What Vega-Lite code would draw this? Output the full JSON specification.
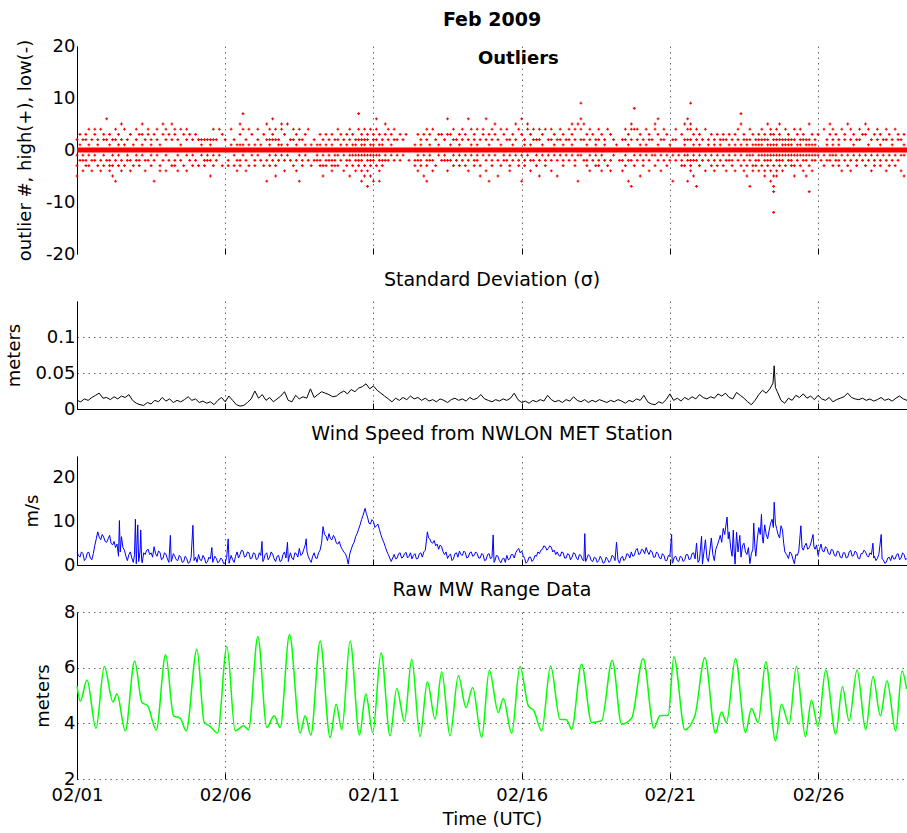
{
  "$schema": "https://vega.github.io/schema/vega-lite/v6.json",
  "background": "white",
  "padding": {"left": 5, "top": 11, "right": 0, "bottom": 2},
  "bounds": "flush",
  "spacing": 47,
  "config": {
    "font": "DejaVu Sans",
    "view": {"stroke": null},
    "axis": {
      "labelFont": "DejaVu Sans", "labelFontSize": 18, "labelColor": "black",
      "titleFont": "DejaVu Sans", "titleFontSize": 18, "titleFontWeight": "normal", "titleColor": "black",
      "domainColor": "black", "tickColor": "black",
      "gridColor": "#333", "gridDash": [1.5, 4], "gridWidth": 1, "gridOpacity": 0.75,
      "labelFlush": false, "labelOverlap": false
    },
    "axisY": {"titlePadding": 11},
    "title": {"font": "DejaVu Sans", "fontSize": 19, "fontWeight": "normal", "color": "black", "anchor": "middle", "frame": "group"}
  },
  "datasets": {
    "zero": [{"d": 1, "v": 0}, {"d": 29, "v": 0}],
    "outliers": [
      {"d":1,"v":2},{"d":1,"v":-1},{"d":1,"v":-3},{"d":1,"v":-5},
      {"d":1.1,"v":3},{"d":1.1,"v":1},{"d":1.1,"v":-2},
      {"d":1.2,"v":2},{"d":1.2,"v":-1},{"d":1.2,"v":-2},{"d":1.2,"v":-4},
      {"d":1.3,"v":3},{"d":1.3,"v":2},{"d":1.3,"v":-2},{"d":1.3,"v":-3},
      {"d":1.4,"v":4},{"d":1.4,"v":1},{"d":1.4,"v":-1},{"d":1.4,"v":-3},
      {"d":1.5,"v":2},{"d":1.5,"v":-2},{"d":1.5,"v":-4},
      {"d":1.6,"v":4},{"d":1.6,"v":3},{"d":1.6,"v":-1},{"d":1.6,"v":-2},
      {"d":1.7,"v":2},{"d":1.7,"v":1},{"d":1.7,"v":-3},
      {"d":1.8,"v":4},{"d":1.8,"v":-2},{"d":1.8,"v":-4},
      {"d":1.9,"v":3},{"d":1.9,"v":2},{"d":1.9,"v":-1},{"d":1.9,"v":-3},
      {"d":2,"v":6},{"d":2,"v":2},{"d":2,"v":-2},
      {"d":2.1,"v":3},{"d":2.1,"v":1},{"d":2.1,"v":-2},{"d":2.1,"v":-3},{"d":2.1,"v":-4},
      {"d":2.2,"v":2},{"d":2.2,"v":-1},{"d":2.2,"v":-3},{"d":2.2,"v":-5},
      {"d":2.3,"v":4},{"d":2.3,"v":2},{"d":2.3,"v":-2},{"d":2.3,"v":-6},
      {"d":2.4,"v":3},{"d":2.4,"v":1},{"d":2.4,"v":-1},{"d":2.4,"v":-3},
      {"d":2.5,"v":5},{"d":2.5,"v":2},{"d":2.5,"v":-2},{"d":2.5,"v":-4},
      {"d":2.6,"v":4},{"d":2.6,"v":1},{"d":2.6,"v":-3},
      {"d":2.7,"v":2},{"d":2.7,"v":-1},{"d":2.7,"v":-2},
      {"d":2.8,"v":3},{"d":2.8,"v":-2},{"d":2.8,"v":-4},
      {"d":2.9,"v":1},{"d":2.9,"v":-3},
      {"d":3,"v":4},{"d":3,"v":2},{"d":3,"v":-1},{"d":3,"v":-2},
      {"d":3.1,"v":3},{"d":3.1,"v":-2},{"d":3.1,"v":-3},
      {"d":3.2,"v":5},{"d":3.2,"v":3},{"d":3.2,"v":1},{"d":3.2,"v":-1},
      {"d":3.3,"v":2},{"d":3.3,"v":-2},{"d":3.3,"v":-4},
      {"d":3.4,"v":4},{"d":3.4,"v":3},{"d":3.4,"v":-2},
      {"d":3.5,"v":2},{"d":3.5,"v":1},{"d":3.5,"v":-1},{"d":3.5,"v":-3},
      {"d":3.6,"v":3},{"d":3.6,"v":-2},{"d":3.6,"v":-6},
      {"d":3.7,"v":4},{"d":3.7,"v":2},{"d":3.7,"v":-1},
      {"d":3.8,"v":1},{"d":3.8,"v":-3},{"d":3.8,"v":-4},
      {"d":3.9,"v":5},{"d":3.9,"v":3},{"d":3.9,"v":-2},
      {"d":4,"v":4},{"d":4,"v":2},{"d":4,"v":-1},{"d":4,"v":-4},
      {"d":4.1,"v":3},{"d":4.1,"v":-2},
      {"d":4.2,"v":5},{"d":4.2,"v":2},{"d":4.2,"v":-3},
      {"d":4.3,"v":4},{"d":4.3,"v":3},{"d":4.3,"v":-2},{"d":4.3,"v":-3},
      {"d":4.4,"v":2},{"d":4.4,"v":-1},{"d":4.4,"v":-4},
      {"d":4.5,"v":4},{"d":4.5,"v":1},{"d":4.5,"v":-2},
      {"d":4.6,"v":3},{"d":4.6,"v":-3},
      {"d":4.7,"v":4},{"d":4.7,"v":2},{"d":4.7,"v":-1},{"d":4.7,"v":-4},
      {"d":4.8,"v":3},{"d":4.8,"v":-2},
      {"d":4.9,"v":2},{"d":4.9,"v":-1},{"d":4.9,"v":-3},
      {"d":5,"v":3},{"d":5,"v":-2},
      {"d":5.1,"v":2},{"d":5.1,"v":-3},
      {"d":5.2,"v":2},{"d":5.2,"v":1},{"d":5.2,"v":-1},
      {"d":5.3,"v":2},{"d":5.3,"v":-2},{"d":5.3,"v":-3},
      {"d":5.4,"v":2},{"d":5.4,"v":-1},{"d":5.4,"v":-2},
      {"d":5.5,"v":2},{"d":5.5,"v":1},{"d":5.5,"v":-2},{"d":5.5,"v":-5},
      {"d":5.6,"v":4},{"d":5.6,"v":2},{"d":5.6,"v":-1},{"d":5.6,"v":-3},
      {"d":5.7,"v":2},{"d":5.7,"v":-2},
      {"d":5.8,"v":4},{"d":5.8,"v":-1},
      {"d":5.9,"v":3},{"d":5.9,"v":-3},
      {"d":6,"v":2},
      {"d":6.1,"v":-2},{"d":6.1,"v":-3},
      {"d":6.2,"v":4},{"d":6.2,"v":1},
      {"d":6.3,"v":2},{"d":6.3,"v":-1},{"d":6.3,"v":-3},
      {"d":6.4,"v":1},{"d":6.4,"v":-2},{"d":6.4,"v":-4},
      {"d":6.5,"v":5},{"d":6.5,"v":3},{"d":6.5,"v":1},{"d":6.5,"v":-2},{"d":6.5,"v":-3},
      {"d":6.6,"v":7},{"d":6.6,"v":4},{"d":6.6,"v":1},{"d":6.6,"v":-1},
      {"d":6.7,"v":2},{"d":6.7,"v":-2},{"d":6.7,"v":-4},
      {"d":6.8,"v":4},{"d":6.8,"v":1},{"d":6.8,"v":-3},
      {"d":6.9,"v":3},{"d":6.9,"v":-1},
      {"d":7,"v":1},{"d":7,"v":-2},{"d":7,"v":-3},
      {"d":7.1,"v":4},{"d":7.1,"v":2},{"d":7.1,"v":-1},
      {"d":7.2,"v":1},{"d":7.2,"v":-2},
      {"d":7.3,"v":3},{"d":7.3,"v":-3},
      {"d":7.4,"v":5},{"d":7.4,"v":2},{"d":7.4,"v":-2},{"d":7.4,"v":-6},
      {"d":7.5,"v":4},{"d":7.5,"v":2},{"d":7.5,"v":1},{"d":7.5,"v":-1},{"d":7.5,"v":-3},
      {"d":7.6,"v":6},{"d":7.6,"v":3},{"d":7.6,"v":2},{"d":7.6,"v":-2},
      {"d":7.7,"v":4},{"d":7.7,"v":2},{"d":7.7,"v":-1},{"d":7.7,"v":-3},{"d":7.7,"v":-5},
      {"d":7.8,"v":2},{"d":7.8,"v":1},{"d":7.8,"v":-2},
      {"d":7.9,"v":5},{"d":7.9,"v":4},{"d":7.9,"v":1},{"d":7.9,"v":-1},
      {"d":8,"v":3},{"d":8,"v":-2},{"d":8,"v":-4},
      {"d":8.1,"v":5},{"d":8.1,"v":1},{"d":8.1,"v":-1},
      {"d":8.2,"v":2},{"d":8.2,"v":-2},
      {"d":8.3,"v":4},{"d":8.3,"v":2},{"d":8.3,"v":-3},
      {"d":8.4,"v":3},{"d":8.4,"v":1},{"d":8.4,"v":-2},{"d":8.4,"v":-4},
      {"d":8.5,"v":4},{"d":8.5,"v":2},{"d":8.5,"v":-1},{"d":8.5,"v":-6},
      {"d":8.6,"v":2},{"d":8.6,"v":-2},{"d":8.6,"v":-3},
      {"d":8.7,"v":3},{"d":8.7,"v":1},{"d":8.7,"v":-1},
      {"d":8.8,"v":4},{"d":8.8,"v":-2},
      {"d":8.9,"v":1},{"d":8.9,"v":-3},
      {"d":9,"v":2},{"d":9,"v":-2},
      {"d":9.1,"v":1},{"d":9.1,"v":-1},{"d":9.1,"v":-2},
      {"d":9.2,"v":3},{"d":9.2,"v":1},{"d":9.2,"v":-2},{"d":9.2,"v":-3},
      {"d":9.3,"v":2},{"d":9.3,"v":-1},{"d":9.3,"v":-3},{"d":9.3,"v":-5},
      {"d":9.4,"v":3},{"d":9.4,"v":1},{"d":9.4,"v":-2},{"d":9.4,"v":-3},
      {"d":9.5,"v":2},{"d":9.5,"v":-1},{"d":9.5,"v":-2},
      {"d":9.6,"v":3},{"d":9.6,"v":1},{"d":9.6,"v":-2},{"d":9.6,"v":-3},{"d":9.6,"v":-4},
      {"d":9.7,"v":2},{"d":9.7,"v":-1},{"d":9.7,"v":-2},{"d":9.7,"v":-3},
      {"d":9.8,"v":4},{"d":9.8,"v":2},{"d":9.8,"v":-1},{"d":9.8,"v":-3},
      {"d":9.9,"v":3},{"d":9.9,"v":1},{"d":9.9,"v":-2},
      {"d":10,"v":2},{"d":10,"v":-1},{"d":10,"v":-4},
      {"d":10.1,"v":3},{"d":10.1,"v":1},{"d":10.1,"v":-2},{"d":10.1,"v":-3},
      {"d":10.2,"v":4},{"d":10.2,"v":2},{"d":10.2,"v":-1},{"d":10.2,"v":-2},{"d":10.2,"v":-5},
      {"d":10.3,"v":3},{"d":10.3,"v":1},{"d":10.3,"v":-1},{"d":10.3,"v":-3},
      {"d":10.4,"v":2},{"d":10.4,"v":1},{"d":10.4,"v":-1},{"d":10.4,"v":-2},{"d":10.4,"v":-4},
      {"d":10.5,"v":7},{"d":10.5,"v":4},{"d":10.5,"v":2},{"d":10.5,"v":-1},{"d":10.5,"v":-2},{"d":10.5,"v":-3},
      {"d":10.6,"v":3},{"d":10.6,"v":2},{"d":10.6,"v":1},{"d":10.6,"v":-1},{"d":10.6,"v":-2},{"d":10.6,"v":-4},{"d":10.6,"v":-6},
      {"d":10.7,"v":4},{"d":10.7,"v":2},{"d":10.7,"v":1},{"d":10.7,"v":-1},{"d":10.7,"v":-3},{"d":10.7,"v":-5},
      {"d":10.8,"v":3},{"d":10.8,"v":2},{"d":10.8,"v":-1},{"d":10.8,"v":-2},{"d":10.8,"v":-4},{"d":10.8,"v":-7},
      {"d":10.9,"v":4},{"d":10.9,"v":1},{"d":10.9,"v":-1},{"d":10.9,"v":-2},{"d":10.9,"v":-3},{"d":10.9,"v":-5},
      {"d":11,"v":3},{"d":11,"v":2},{"d":11,"v":1},{"d":11,"v":-1},{"d":11,"v":-2},{"d":11,"v":-6},
      {"d":11.1,"v":6},{"d":11.1,"v":4},{"d":11.1,"v":2},{"d":11.1,"v":-1},{"d":11.1,"v":-3},
      {"d":11.2,"v":3},{"d":11.2,"v":1},{"d":11.2,"v":-1},{"d":11.2,"v":-2},{"d":11.2,"v":-4},{"d":11.2,"v":-6},
      {"d":11.3,"v":2},{"d":11.3,"v":1},{"d":11.3,"v":-2},{"d":11.3,"v":-3},
      {"d":11.4,"v":5},{"d":11.4,"v":3},{"d":11.4,"v":-1},{"d":11.4,"v":-2},
      {"d":11.5,"v":4},{"d":11.5,"v":2},{"d":11.5,"v":-2},
      {"d":11.6,"v":3},{"d":11.6,"v":1},{"d":11.6,"v":-1},
      {"d":11.7,"v":4},{"d":11.7,"v":2},{"d":11.7,"v":-2},
      {"d":11.8,"v":2},{"d":11.8,"v":-1},
      {"d":11.9,"v":3},{"d":11.9,"v":-2},
      {"d":12,"v":2},{"d":12,"v":-1},
      {"d":12.1,"v":3},
      {"d":12.2,"v":-2},
      {"d":12.4,"v":1},{"d":12.4,"v":-2},{"d":12.4,"v":-3},
      {"d":12.5,"v":3},{"d":12.5,"v":-1},{"d":12.5,"v":-2},{"d":12.5,"v":-4},
      {"d":12.6,"v":2},{"d":12.6,"v":1},{"d":12.6,"v":-2},{"d":12.6,"v":-3},
      {"d":12.7,"v":3},{"d":12.7,"v":-1},{"d":12.7,"v":-5},
      {"d":12.8,"v":4},{"d":12.8,"v":2},{"d":12.8,"v":-2},{"d":12.8,"v":-3},{"d":12.8,"v":-6},
      {"d":12.9,"v":3},{"d":12.9,"v":1},{"d":12.9,"v":-1},{"d":12.9,"v":-2},
      {"d":13,"v":4},{"d":13,"v":-2},{"d":13,"v":-4},
      {"d":13.1,"v":2},{"d":13.1,"v":-3},
      {"d":13.2,"v":3},{"d":13.2,"v":1},{"d":13.2,"v":-1},
      {"d":13.3,"v":3},{"d":13.3,"v":-2},
      {"d":13.4,"v":2},{"d":13.4,"v":-1},{"d":13.4,"v":-2},
      {"d":13.5,"v":6},{"d":13.5,"v":3},{"d":13.5,"v":-2},{"d":13.5,"v":-4},
      {"d":13.6,"v":3},{"d":13.6,"v":1},{"d":13.6,"v":-2},
      {"d":13.7,"v":4},{"d":13.7,"v":2},{"d":13.7,"v":-1},{"d":13.7,"v":-3},
      {"d":13.8,"v":2},{"d":13.8,"v":-2},
      {"d":13.9,"v":3},{"d":13.9,"v":1},{"d":13.9,"v":-1},{"d":13.9,"v":-3},
      {"d":14,"v":4},{"d":14,"v":2},{"d":14,"v":-2},
      {"d":14.1,"v":3},{"d":14.1,"v":-1},{"d":14.1,"v":-3},
      {"d":14.2,"v":6},{"d":14.2,"v":2},{"d":14.2,"v":-2},{"d":14.2,"v":-4},
      {"d":14.3,"v":4},{"d":14.3,"v":1},{"d":14.3,"v":-1},
      {"d":14.4,"v":3},{"d":14.4,"v":2},{"d":14.4,"v":-2},{"d":14.4,"v":-3},
      {"d":14.5,"v":4},{"d":14.5,"v":1},{"d":14.5,"v":-1},{"d":14.5,"v":-2},
      {"d":14.6,"v":2},{"d":14.6,"v":-3},{"d":14.6,"v":-5},
      {"d":14.7,"v":4},{"d":14.7,"v":3},{"d":14.7,"v":-1},
      {"d":14.8,"v":6},{"d":14.8,"v":2},{"d":14.8,"v":-2},{"d":14.8,"v":-4},
      {"d":14.9,"v":3},{"d":14.9,"v":1},{"d":14.9,"v":-1},{"d":14.9,"v":-6},
      {"d":15,"v":4},{"d":15,"v":2},{"d":15,"v":-2},{"d":15,"v":-3},
      {"d":15.1,"v":5},{"d":15.1,"v":3},{"d":15.1,"v":-1},
      {"d":15.2,"v":2},{"d":15.2,"v":-2},{"d":15.2,"v":-5},
      {"d":15.3,"v":4},{"d":15.3,"v":1},{"d":15.3,"v":-3},
      {"d":15.4,"v":3},{"d":15.4,"v":-1},{"d":15.4,"v":-2},
      {"d":15.5,"v":4},{"d":15.5,"v":2},{"d":15.5,"v":-2},
      {"d":15.6,"v":2},{"d":15.6,"v":-1},{"d":15.6,"v":-3},{"d":15.6,"v":-4},
      {"d":15.7,"v":3},{"d":15.7,"v":1},{"d":15.7,"v":-2},
      {"d":15.8,"v":5},{"d":15.8,"v":2},{"d":15.8,"v":-1},
      {"d":15.9,"v":4},{"d":15.9,"v":-2},{"d":15.9,"v":-3},
      {"d":16,"v":6},{"d":16,"v":3},{"d":16,"v":-1},{"d":16,"v":-6},
      {"d":16.1,"v":2},{"d":16.1,"v":1},{"d":16.1,"v":-2},{"d":16.1,"v":-3},
      {"d":16.2,"v":5},{"d":16.2,"v":4},{"d":16.2,"v":-1},
      {"d":16.3,"v":3},{"d":16.3,"v":1},{"d":16.3,"v":-2},{"d":16.3,"v":-4},
      {"d":16.4,"v":4},{"d":16.4,"v":2},{"d":16.4,"v":-2},
      {"d":16.5,"v":2},{"d":16.5,"v":-1},{"d":16.5,"v":-3},
      {"d":16.6,"v":4},{"d":16.6,"v":2},{"d":16.6,"v":-2},{"d":16.6,"v":-5},
      {"d":16.7,"v":3},{"d":16.7,"v":1},{"d":16.7,"v":-1},
      {"d":16.8,"v":4},{"d":16.8,"v":-2},{"d":16.8,"v":-3},
      {"d":16.9,"v":2},{"d":16.9,"v":-1},
      {"d":17,"v":4},{"d":17,"v":2},{"d":17,"v":-2},{"d":17,"v":-4},
      {"d":17.1,"v":3},{"d":17.1,"v":1},{"d":17.1,"v":-1},
      {"d":17.2,"v":2},{"d":17.2,"v":-2},{"d":17.2,"v":-5},
      {"d":17.3,"v":4},{"d":17.3,"v":2},{"d":17.3,"v":-1},
      {"d":17.4,"v":3},{"d":17.4,"v":1},{"d":17.4,"v":-2},{"d":17.4,"v":-3},
      {"d":17.5,"v":2},{"d":17.5,"v":-1},
      {"d":17.6,"v":4},{"d":17.6,"v":2},{"d":17.6,"v":-2},
      {"d":17.7,"v":5},{"d":17.7,"v":3},{"d":17.7,"v":1},{"d":17.7,"v":-1},
      {"d":17.8,"v":4},{"d":17.8,"v":2},{"d":17.8,"v":-2},{"d":17.8,"v":-3},
      {"d":17.9,"v":5},{"d":17.9,"v":-1},{"d":17.9,"v":-6},
      {"d":18,"v":9},{"d":18,"v":6},{"d":18,"v":4},{"d":18,"v":2},{"d":18,"v":-1},
      {"d":18.1,"v":5},{"d":18.1,"v":2},{"d":18.1,"v":-2},
      {"d":18.2,"v":3},{"d":18.2,"v":1},{"d":18.2,"v":-2},{"d":18.2,"v":-3},
      {"d":18.3,"v":4},{"d":18.3,"v":2},{"d":18.3,"v":-1},{"d":18.3,"v":-4},
      {"d":18.4,"v":3},{"d":18.4,"v":-2},
      {"d":18.5,"v":2},{"d":18.5,"v":1},{"d":18.5,"v":-1},{"d":18.5,"v":-3},
      {"d":18.6,"v":4},{"d":18.6,"v":2},{"d":18.6,"v":-2},{"d":18.6,"v":-3},
      {"d":18.7,"v":3},{"d":18.7,"v":-1},{"d":18.7,"v":-4},
      {"d":18.8,"v":2},{"d":18.8,"v":1},{"d":18.8,"v":-2},
      {"d":18.9,"v":4},{"d":18.9,"v":-3},
      {"d":19,"v":3},{"d":19,"v":-2},{"d":19,"v":-4},
      {"d":19.1,"v":2},{"d":19.1,"v":-1},
      {"d":19.2,"v":1},
      {"d":19.3,"v":-2},
      {"d":19.4,"v":2},{"d":19.4,"v":-2},{"d":19.4,"v":-4},
      {"d":19.5,"v":4},{"d":19.5,"v":2},{"d":19.5,"v":-1},{"d":19.5,"v":-3},
      {"d":19.6,"v":3},{"d":19.6,"v":1},{"d":19.6,"v":-2},{"d":19.6,"v":-6},
      {"d":19.7,"v":5},{"d":19.7,"v":4},{"d":19.7,"v":2},{"d":19.7,"v":-2},{"d":19.7,"v":-7},
      {"d":19.8,"v":8},{"d":19.8,"v":4},{"d":19.8,"v":-1},{"d":19.8,"v":-3},
      {"d":19.9,"v":4},{"d":19.9,"v":2},{"d":19.9,"v":-2},
      {"d":20,"v":3},{"d":20,"v":1},{"d":20,"v":-1},{"d":20,"v":-5},
      {"d":20.1,"v":2},{"d":20.1,"v":-2},{"d":20.1,"v":-3},
      {"d":20.2,"v":4},{"d":20.2,"v":1},{"d":20.2,"v":-1},
      {"d":20.3,"v":3},{"d":20.3,"v":2},{"d":20.3,"v":-2},{"d":20.3,"v":-4},
      {"d":20.4,"v":2},{"d":20.4,"v":-1},
      {"d":20.5,"v":5},{"d":20.5,"v":4},{"d":20.5,"v":-1},{"d":20.5,"v":-3},
      {"d":20.6,"v":6},{"d":20.6,"v":3},{"d":20.6,"v":1},{"d":20.6,"v":-2},
      {"d":20.7,"v":2},{"d":20.7,"v":-1},{"d":20.7,"v":-4},
      {"d":20.8,"v":4},{"d":20.8,"v":2},{"d":20.8,"v":-2},
      {"d":20.9,"v":3},{"d":20.9,"v":-1},{"d":20.9,"v":-3},
      {"d":21,"v":1},{"d":21,"v":-2},
      {"d":21.1,"v":2},{"d":21.1,"v":-1},{"d":21.1,"v":-6},
      {"d":21.2,"v":4},{"d":21.2,"v":2},{"d":21.2,"v":-2},
      {"d":21.3,"v":-1},
      {"d":21.4,"v":3},{"d":21.4,"v":-2},{"d":21.4,"v":-3},
      {"d":21.5,"v":5},{"d":21.5,"v":2},{"d":21.5,"v":1},{"d":21.5,"v":-1},{"d":21.5,"v":-3},
      {"d":21.6,"v":6},{"d":21.6,"v":4},{"d":21.6,"v":2},{"d":21.6,"v":-1},{"d":21.6,"v":-2},{"d":21.6,"v":-6},
      {"d":21.7,"v":9},{"d":21.7,"v":5},{"d":21.7,"v":4},{"d":21.7,"v":2},{"d":21.7,"v":-2},{"d":21.7,"v":-3},{"d":21.7,"v":-4},
      {"d":21.8,"v":3},{"d":21.8,"v":1},{"d":21.8,"v":-1},{"d":21.8,"v":-2},{"d":21.8,"v":-5},
      {"d":21.9,"v":4},{"d":21.9,"v":2},{"d":21.9,"v":-2},{"d":21.9,"v":-7},
      {"d":22,"v":3},{"d":22,"v":1},{"d":22,"v":-1},{"d":22,"v":-3},
      {"d":22.1,"v":2},{"d":22.1,"v":-2},
      {"d":22.2,"v":4},{"d":22.2,"v":-1},{"d":22.2,"v":-4},
      {"d":22.3,"v":2},{"d":22.3,"v":1},{"d":22.3,"v":-2},
      {"d":22.4,"v":3},{"d":22.4,"v":-1},{"d":22.4,"v":-3},
      {"d":22.5,"v":2},{"d":22.5,"v":1},{"d":22.5,"v":-2},{"d":22.5,"v":-4},
      {"d":22.6,"v":3},{"d":22.6,"v":-1},{"d":22.6,"v":-3},
      {"d":22.7,"v":2},{"d":22.7,"v":1},{"d":22.7,"v":-2},
      {"d":22.8,"v":3},{"d":22.8,"v":2},{"d":22.8,"v":-1},{"d":22.8,"v":-3},
      {"d":22.9,"v":2},{"d":22.9,"v":-2},{"d":22.9,"v":-4},
      {"d":23,"v":3},{"d":23,"v":1},{"d":23,"v":-1},{"d":23,"v":-2},
      {"d":23.1,"v":2},{"d":23.1,"v":-2},{"d":23.1,"v":-3},
      {"d":23.2,"v":3},{"d":23.2,"v":1},{"d":23.2,"v":-1},{"d":23.2,"v":-4},
      {"d":23.3,"v":4},{"d":23.3,"v":2},{"d":23.3,"v":-2},
      {"d":23.4,"v":7},{"d":23.4,"v":5},{"d":23.4,"v":1},{"d":23.4,"v":-1},{"d":23.4,"v":-3},
      {"d":23.5,"v":3},{"d":23.5,"v":2},{"d":23.5,"v":-2},{"d":23.5,"v":-4},
      {"d":23.6,"v":2},{"d":23.6,"v":1},{"d":23.6,"v":-1},{"d":23.6,"v":-3},{"d":23.6,"v":-5},
      {"d":23.7,"v":4},{"d":23.7,"v":2},{"d":23.7,"v":-1},{"d":23.7,"v":-2},{"d":23.7,"v":-7},
      {"d":23.8,"v":3},{"d":23.8,"v":1},{"d":23.8,"v":-1},{"d":23.8,"v":-3},{"d":23.8,"v":-4},
      {"d":23.9,"v":2},{"d":23.9,"v":1},{"d":23.9,"v":-2},{"d":23.9,"v":-3},
      {"d":24,"v":3},{"d":24,"v":2},{"d":24,"v":1},{"d":24,"v":-1},{"d":24,"v":-2},{"d":24,"v":-4},
      {"d":24.1,"v":4},{"d":24.1,"v":2},{"d":24.1,"v":1},{"d":24.1,"v":-1},{"d":24.1,"v":-3},
      {"d":24.2,"v":3},{"d":24.2,"v":2},{"d":24.2,"v":-1},{"d":24.2,"v":-2},{"d":24.2,"v":-4},{"d":24.2,"v":-5},
      {"d":24.3,"v":5},{"d":24.3,"v":2},{"d":24.3,"v":1},{"d":24.3,"v":-1},{"d":24.3,"v":-2},{"d":24.3,"v":-3},
      {"d":24.4,"v":4},{"d":24.4,"v":3},{"d":24.4,"v":1},{"d":24.4,"v":-1},{"d":24.4,"v":-2},{"d":24.4,"v":-4},{"d":24.4,"v":-6},
      {"d":24.5,"v":3},{"d":24.5,"v":2},{"d":24.5,"v":1},{"d":24.5,"v":-1},{"d":24.5,"v":-3},{"d":24.5,"v":-5},{"d":24.5,"v":-7},{"d":24.5,"v":-8},{"d":24.5,"v":-12},
      {"d":24.6,"v":4},{"d":24.6,"v":2},{"d":24.6,"v":1},{"d":24.6,"v":-1},{"d":24.6,"v":-2},{"d":24.6,"v":-4},{"d":24.6,"v":-5},
      {"d":24.7,"v":5},{"d":24.7,"v":3},{"d":24.7,"v":2},{"d":24.7,"v":-1},{"d":24.7,"v":-2},{"d":24.7,"v":-3},
      {"d":24.8,"v":2},{"d":24.8,"v":1},{"d":24.8,"v":-1},{"d":24.8,"v":-2},{"d":24.8,"v":-4},
      {"d":24.9,"v":4},{"d":24.9,"v":2},{"d":24.9,"v":1},{"d":24.9,"v":-1},{"d":24.9,"v":-3},
      {"d":25,"v":3},{"d":25,"v":2},{"d":25,"v":1},{"d":25,"v":-1},{"d":25,"v":-2},
      {"d":25.1,"v":2},{"d":25.1,"v":1},{"d":25.1,"v":-1},{"d":25.1,"v":-2},{"d":25.1,"v":-3},
      {"d":25.2,"v":4},{"d":25.2,"v":2},{"d":25.2,"v":-1},{"d":25.2,"v":-3},{"d":25.2,"v":-5},
      {"d":25.3,"v":3},{"d":25.3,"v":1},{"d":25.3,"v":-1},{"d":25.3,"v":-2},
      {"d":25.4,"v":4},{"d":25.4,"v":2},{"d":25.4,"v":1},{"d":25.4,"v":-1},{"d":25.4,"v":-3},
      {"d":25.5,"v":3},{"d":25.5,"v":2},{"d":25.5,"v":-1},{"d":25.5,"v":-2},{"d":25.5,"v":-4},
      {"d":25.6,"v":2},{"d":25.6,"v":1},{"d":25.6,"v":-1},{"d":25.6,"v":-2},{"d":25.6,"v":-5},
      {"d":25.7,"v":5},{"d":25.7,"v":2},{"d":25.7,"v":1},{"d":25.7,"v":-1},{"d":25.7,"v":-3},{"d":25.7,"v":-8},
      {"d":25.8,"v":3},{"d":25.8,"v":1},{"d":25.8,"v":-1},{"d":25.8,"v":-2},{"d":25.8,"v":-4},
      {"d":25.9,"v":2},{"d":25.9,"v":1},{"d":25.9,"v":-1},{"d":25.9,"v":-2},
      {"d":26,"v":3},{"d":26,"v":-1},
      {"d":26.1,"v":-2},
      {"d":26.2,"v":4},{"d":26.2,"v":-1},{"d":26.2,"v":-3},
      {"d":26.3,"v":2},{"d":26.3,"v":1},{"d":26.3,"v":-2},
      {"d":26.4,"v":5},{"d":26.4,"v":3},{"d":26.4,"v":-1},{"d":26.4,"v":-2},
      {"d":26.5,"v":4},{"d":26.5,"v":2},{"d":26.5,"v":1},{"d":26.5,"v":-1},{"d":26.5,"v":-3},
      {"d":26.6,"v":3},{"d":26.6,"v":-1},{"d":26.6,"v":-2},
      {"d":26.7,"v":2},{"d":26.7,"v":1},{"d":26.7,"v":-2},{"d":26.7,"v":-3},
      {"d":26.8,"v":4},{"d":26.8,"v":-1},{"d":26.8,"v":-4},
      {"d":26.9,"v":3},{"d":26.9,"v":2},{"d":26.9,"v":-2},
      {"d":27,"v":5},{"d":27,"v":-1},{"d":27,"v":-3},
      {"d":27.1,"v":4},{"d":27.1,"v":2},{"d":27.1,"v":-2},{"d":27.1,"v":-4},
      {"d":27.2,"v":3},{"d":27.2,"v":1},{"d":27.2,"v":-1},
      {"d":27.3,"v":2},{"d":27.3,"v":-2},{"d":27.3,"v":-3},
      {"d":27.4,"v":4},{"d":27.4,"v":2},{"d":27.4,"v":-1},
      {"d":27.5,"v":3},{"d":27.5,"v":-2},
      {"d":27.6,"v":5},{"d":27.6,"v":3},{"d":27.6,"v":-1},{"d":27.6,"v":-3},
      {"d":27.7,"v":4},{"d":27.7,"v":1},{"d":27.7,"v":-2},
      {"d":27.8,"v":2},{"d":27.8,"v":-1},{"d":27.8,"v":-4},
      {"d":27.9,"v":3},{"d":27.9,"v":-2},{"d":27.9,"v":-3},
      {"d":28,"v":4},{"d":28,"v":2},{"d":28,"v":-1},
      {"d":28.1,"v":3},{"d":28.1,"v":1},{"d":28.1,"v":-2},{"d":28.1,"v":-3},
      {"d":28.2,"v":2},{"d":28.2,"v":-1},
      {"d":28.3,"v":4},{"d":28.3,"v":2},{"d":28.3,"v":-2},{"d":28.3,"v":-4},
      {"d":28.4,"v":3},{"d":28.4,"v":-1},{"d":28.4,"v":-3},
      {"d":28.5,"v":2},{"d":28.5,"v":1},{"d":28.5,"v":-2},
      {"d":28.6,"v":4},{"d":28.6,"v":-1},{"d":28.6,"v":-3},
      {"d":28.7,"v":3},{"d":28.7,"v":2},{"d":28.7,"v":-2},
      {"d":28.8,"v":2},{"d":28.8,"v":-1},{"d":28.8,"v":-4},
      {"d":28.9,"v":3},{"d":28.9,"v":1},{"d":28.9,"v":-1},{"d":28.9,"v":-5}
    ],
    "sigma": [
      {"d":1,"v":0.012},{"d":1.125,"v":0.010},{"d":1.25,"v":0.014},{"d":1.375,"v":0.012},{"d":1.5,"v":0.016},{"d":1.625,"v":0.019},{"d":1.75,"v":0.022},{"d":1.875,"v":0.015},
      {"d":2,"v":0.016},{"d":2.125,"v":0.013},{"d":2.25,"v":0.017},{"d":2.375,"v":0.014},{"d":2.5,"v":0.018},{"d":2.625,"v":0.016},{"d":2.75,"v":0.020},{"d":2.875,"v":0.012},
      {"d":3,"v":0.008},{"d":3.125,"v":0.006},{"d":3.25,"v":0.005},{"d":3.375,"v":0.009},{"d":3.5,"v":0.007},{"d":3.625,"v":0.012},{"d":3.75,"v":0.010},{"d":3.875,"v":0.016},
      {"d":4,"v":0.011},{"d":4.125,"v":0.014},{"d":4.25,"v":0.009},{"d":4.375,"v":0.012},{"d":4.5,"v":0.010},{"d":4.625,"v":0.013},{"d":4.75,"v":0.017},{"d":4.875,"v":0.012},
      {"d":5,"v":0.014},{"d":5.125,"v":0.009},{"d":5.25,"v":0.011},{"d":5.375,"v":0.008},{"d":5.5,"v":0.010},{"d":5.625,"v":0.006},{"d":5.75,"v":0.012},{"d":5.875,"v":0.016},
      {"d":6,"v":0.010},{"d":6.125,"v":0.018},{"d":6.25,"v":0.012},{"d":6.375,"v":0.006},{"d":6.5,"v":0.004},{"d":6.625,"v":0.005},{"d":6.75,"v":0.009},{"d":6.875,"v":0.014},
      {"d":7,"v":0.025},{"d":7.125,"v":0.015},{"d":7.25,"v":0.020},{"d":7.375,"v":0.012},{"d":7.5,"v":0.016},{"d":7.625,"v":0.010},{"d":7.75,"v":0.014},{"d":7.875,"v":0.018},
      {"d":8,"v":0.024},{"d":8.125,"v":0.012},{"d":8.25,"v":0.010},{"d":8.375,"v":0.019},{"d":8.5,"v":0.014},{"d":8.625,"v":0.017},{"d":8.75,"v":0.015},{"d":8.875,"v":0.028},
      {"d":9,"v":0.016},{"d":9.125,"v":0.020},{"d":9.25,"v":0.024},{"d":9.375,"v":0.022},{"d":9.5,"v":0.020},{"d":9.625,"v":0.017},{"d":9.75,"v":0.018},{"d":9.875,"v":0.022},
      {"d":10,"v":0.025},{"d":10.125,"v":0.021},{"d":10.25,"v":0.027},{"d":10.375,"v":0.024},{"d":10.5,"v":0.029},{"d":10.625,"v":0.031},{"d":10.75,"v":0.035},{"d":10.875,"v":0.028},
      {"d":11,"v":0.032},{"d":11.125,"v":0.026},{"d":11.25,"v":0.022},{"d":11.375,"v":0.018},{"d":11.5,"v":0.014},{"d":11.625,"v":0.010},{"d":11.75,"v":0.015},{"d":11.875,"v":0.012},
      {"d":12,"v":0.016},{"d":12.125,"v":0.013},{"d":12.25,"v":0.018},{"d":12.375,"v":0.014},{"d":12.5,"v":0.016},{"d":12.625,"v":0.012},{"d":12.75,"v":0.015},{"d":12.875,"v":0.011},
      {"d":13,"v":0.013},{"d":13.125,"v":0.010},{"d":13.25,"v":0.014},{"d":13.375,"v":0.012},{"d":13.5,"v":0.009},{"d":13.625,"v":0.013},{"d":13.75,"v":0.015},{"d":13.875,"v":0.012},
      {"d":14,"v":0.014},{"d":14.125,"v":0.011},{"d":14.25,"v":0.016},{"d":14.375,"v":0.013},{"d":14.5,"v":0.015},{"d":14.625,"v":0.020},{"d":14.75,"v":0.014},{"d":14.875,"v":0.012},
      {"d":15,"v":0.010},{"d":15.125,"v":0.013},{"d":15.25,"v":0.011},{"d":15.375,"v":0.014},{"d":15.5,"v":0.012},{"d":15.625,"v":0.015},{"d":15.75,"v":0.022},{"d":15.875,"v":0.013},
      {"d":16,"v":0.009},{"d":16.125,"v":0.011},{"d":16.25,"v":0.008},{"d":16.375,"v":0.012},{"d":16.5,"v":0.010},{"d":16.625,"v":0.013},{"d":16.75,"v":0.011},{"d":16.875,"v":0.019},
      {"d":17,"v":0.013},{"d":17.125,"v":0.010},{"d":17.25,"v":0.012},{"d":17.375,"v":0.009},{"d":17.5,"v":0.013},{"d":17.625,"v":0.011},{"d":17.75,"v":0.017},{"d":17.875,"v":0.012},
      {"d":18,"v":0.010},{"d":18.125,"v":0.013},{"d":18.25,"v":0.009},{"d":18.375,"v":0.012},{"d":18.5,"v":0.010},{"d":18.625,"v":0.013},{"d":18.75,"v":0.011},{"d":18.875,"v":0.009},
      {"d":19,"v":0.012},{"d":19.125,"v":0.010},{"d":19.25,"v":0.013},{"d":19.375,"v":0.011},{"d":19.5,"v":0.008},{"d":19.625,"v":0.012},{"d":19.75,"v":0.010},{"d":19.875,"v":0.014},
      {"d":20,"v":0.012},{"d":20.125,"v":0.019},{"d":20.25,"v":0.010},{"d":20.375,"v":0.007},{"d":20.5,"v":0.006},{"d":20.625,"v":0.010},{"d":20.75,"v":0.008},{"d":20.875,"v":0.013},
      {"d":21,"v":0.021},{"d":21.125,"v":0.012},{"d":21.25,"v":0.015},{"d":21.375,"v":0.011},{"d":21.5,"v":0.016},{"d":21.625,"v":0.013},{"d":21.75,"v":0.017},{"d":21.875,"v":0.014},
      {"d":22,"v":0.020},{"d":22.125,"v":0.016},{"d":22.25,"v":0.014},{"d":22.375,"v":0.017},{"d":22.5,"v":0.015},{"d":22.625,"v":0.021},{"d":22.75,"v":0.018},{"d":22.875,"v":0.022},
      {"d":23,"v":0.016},{"d":23.125,"v":0.014},{"d":23.25,"v":0.023},{"d":23.375,"v":0.019},{"d":23.5,"v":0.015},{"d":23.625,"v":0.010},{"d":23.75,"v":0.006},{"d":23.875,"v":0.012},
      {"d":24,"v":0.020},{"d":24.125,"v":0.026},{"d":24.25,"v":0.022},{"d":24.375,"v":0.028},{"d":24.48,"v":0.036},{"d":24.52,"v":0.060},{"d":24.56,"v":0.030},{"d":24.625,"v":0.024},{"d":24.75,"v":0.012},{"d":24.875,"v":0.008},
      {"d":25,"v":0.015},{"d":25.125,"v":0.012},{"d":25.25,"v":0.019},{"d":25.375,"v":0.016},{"d":25.5,"v":0.021},{"d":25.625,"v":0.015},{"d":25.75,"v":0.018},{"d":25.875,"v":0.013},
      {"d":26,"v":0.019},{"d":26.125,"v":0.014},{"d":26.25,"v":0.012},{"d":26.375,"v":0.016},{"d":26.5,"v":0.010},{"d":26.625,"v":0.013},{"d":26.75,"v":0.015},{"d":26.875,"v":0.017},
      {"d":27,"v":0.022},{"d":27.125,"v":0.016},{"d":27.25,"v":0.014},{"d":27.375,"v":0.013},{"d":27.5,"v":0.015},{"d":27.625,"v":0.012},{"d":27.75,"v":0.014},{"d":27.875,"v":0.011},
      {"d":28,"v":0.013},{"d":28.125,"v":0.016},{"d":28.25,"v":0.012},{"d":28.375,"v":0.014},{"d":28.5,"v":0.011},{"d":28.625,"v":0.015},{"d":28.75,"v":0.018},{"d":28.875,"v":0.014},{"d":29,"v":0.012}
    ],
    "wind": [
      {"d":1,"v":3.0},{"d":1.05,"v":2.2},{"d":1.1,"v":1.8},{"d":1.15,"v":3.0},{"d":1.2,"v":2.6},{"d":1.25,"v":1.0},{"d":1.3,"v":1.5},{"d":1.35,"v":2.8},{"d":1.4,"v":2.9},{"d":1.45,"v":1.6},{"d":1.5,"v":1.2},{"d":1.55,"v":2.6},{"d":1.6,"v":4.5},{"d":1.65,"v":6.0},{"d":1.7,"v":7.6},{"d":1.75,"v":6.4},{"d":1.8,"v":5.8},{"d":1.85,"v":7.0},{"d":1.9,"v":6.4},{"d":1.95,"v":5.4},
      {"d":2,"v":5.2},{"d":2.05,"v":6.0},{"d":2.1,"v":6.8},{"d":2.15,"v":5.0},{"d":2.2,"v":4.6},{"d":2.25,"v":5.4},{"d":2.3,"v":4.0},{"d":2.35,"v":4.8},{"d":2.4,"v":2.0},{"d":2.43,"v":10.2},{"d":2.46,"v":3.0},{"d":2.5,"v":6.5},{"d":2.55,"v":4.0},{"d":2.6,"v":3.4},{"d":2.65,"v":2.0},{"d":2.7,"v":1.0},{"d":2.75,"v":2.4},{"d":2.8,"v":3.0},{"d":2.85,"v":1.6},{"d":2.9,"v":0.6},{"d":2.94,"v":2.4},{"d":2.97,"v":10.5},
      {"d":3,"v":0.3},{"d":3.02,"v":4.0},{"d":3.05,"v":9.2},{"d":3.08,"v":0.8},{"d":3.1,"v":1.5},{"d":3.13,"v":3.5},{"d":3.15,"v":8.0},{"d":3.18,"v":1.2},{"d":3.2,"v":0.5},{"d":3.25,"v":2.8},{"d":3.3,"v":2.4},{"d":3.35,"v":3.4},{"d":3.4,"v":3.6},{"d":3.45,"v":2.4},{"d":3.5,"v":2.8},{"d":3.55,"v":1.8},{"d":3.6,"v":4.2},{"d":3.65,"v":2.6},{"d":3.7,"v":2.0},{"d":3.75,"v":3.2},{"d":3.8,"v":2.9},{"d":3.85,"v":1.2},{"d":3.9,"v":1.5},{"d":3.95,"v":2.8},
      {"d":4,"v":2.5},{"d":4.05,"v":1.4},{"d":4.1,"v":0.6},{"d":4.15,"v":6.8},{"d":4.18,"v":0.8},{"d":4.2,"v":1.2},{"d":4.25,"v":2.6},{"d":4.3,"v":2.0},{"d":4.35,"v":1.2},{"d":4.4,"v":1.0},{"d":4.45,"v":2.2},{"d":4.5,"v":1.8},{"d":4.55,"v":0.6},{"d":4.6,"v":0.8},{"d":4.65,"v":2.0},{"d":4.7,"v":1.5},{"d":4.75,"v":0.4},{"d":4.8,"v":0.6},{"d":4.85,"v":1.8},{"d":4.91,"v":9.1},{"d":4.95,"v":1.0},
      {"d":5,"v":1.8},{"d":5.05,"v":0.6},{"d":5.1,"v":2.4},{"d":5.15,"v":1.2},{"d":5.2,"v":1.0},{"d":5.25,"v":2.2},{"d":5.3,"v":1.6},{"d":5.35,"v":0.4},{"d":5.4,"v":0.7},{"d":5.45,"v":1.8},{"d":5.5,"v":1.4},{"d":5.55,"v":4.0},{"d":5.58,"v":0.6},{"d":5.6,"v":1.0},{"d":5.65,"v":2.0},{"d":5.7,"v":1.5},{"d":5.75,"v":0.5},{"d":5.8,"v":0.8},{"d":5.85,"v":1.6},{"d":5.9,"v":1.2},{"d":5.95,"v":0.3},
      {"d":6,"v":0.5},{"d":6.05,"v":1.8},{"d":6.1,"v":6.0},{"d":6.13,"v":0.4},{"d":6.15,"v":1.0},{"d":6.2,"v":2.2},{"d":6.25,"v":1.2},{"d":6.3,"v":0.6},{"d":6.35,"v":2.0},{"d":6.4,"v":3.0},{"d":6.45,"v":1.6},{"d":6.5,"v":2.4},{"d":6.55,"v":3.4},{"d":6.6,"v":3.2},{"d":6.65,"v":1.8},{"d":6.7,"v":2.0},{"d":6.75,"v":3.0},{"d":6.8,"v":2.8},{"d":6.85,"v":1.4},{"d":6.9,"v":1.6},{"d":6.95,"v":2.8},
      {"d":7,"v":2.6},{"d":7.05,"v":1.2},{"d":7.1,"v":1.5},{"d":7.15,"v":2.8},{"d":7.2,"v":2.2},{"d":7.24,"v":5.4},{"d":7.27,"v":0.8},{"d":7.3,"v":1.2},{"d":7.35,"v":2.4},{"d":7.4,"v":2.8},{"d":7.45,"v":1.2},{"d":7.5,"v":1.8},{"d":7.55,"v":3.0},{"d":7.6,"v":2.5},{"d":7.65,"v":1.4},{"d":7.7,"v":0.8},{"d":7.75,"v":2.0},{"d":7.8,"v":2.2},{"d":7.85,"v":0.8},{"d":7.9,"v":1.0},{"d":7.95,"v":2.4},
      {"d":8,"v":3.0},{"d":8.05,"v":1.6},{"d":8.1,"v":5.2},{"d":8.13,"v":0.8},{"d":8.15,"v":1.5},{"d":8.2,"v":2.8},{"d":8.25,"v":1.6},{"d":8.3,"v":1.2},{"d":8.35,"v":2.8},{"d":8.4,"v":2.6},{"d":8.45,"v":1.8},{"d":8.5,"v":3.8},{"d":8.55,"v":2.2},{"d":8.6,"v":2.5},{"d":8.65,"v":3.6},{"d":8.7,"v":4.6},{"d":8.73,"v":6.0},{"d":8.76,"v":3.0},{"d":8.8,"v":2.0},{"d":8.85,"v":1.2},{"d":8.9,"v":0.6},{"d":8.95,"v":2.0},
      {"d":9,"v":2.8},{"d":9.05,"v":1.6},{"d":9.1,"v":1.5},{"d":9.15,"v":2.8},{"d":9.2,"v":3.4},{"d":9.25,"v":5.0},{"d":9.3,"v":8.8},{"d":9.35,"v":7.0},{"d":9.4,"v":6.6},{"d":9.45,"v":5.6},{"d":9.5,"v":7.2},{"d":9.55,"v":6.0},{"d":9.6,"v":5.8},{"d":9.65,"v":6.8},{"d":9.7,"v":6.2},{"d":9.75,"v":5.0},{"d":9.8,"v":4.8},{"d":9.85,"v":5.4},{"d":9.9,"v":4.2},{"d":9.95,"v":3.6},
      {"d":10,"v":3.0},{"d":10.05,"v":2.6},{"d":10.1,"v":1.8},{"d":10.15,"v":0.2},{"d":10.2,"v":2.5},{"d":10.25,"v":3.6},{"d":10.3,"v":4.6},{"d":10.35,"v":5.2},{"d":10.4,"v":6.5},{"d":10.45,"v":7.2},{"d":10.5,"v":8.2},{"d":10.55,"v":9.2},{"d":10.6,"v":10.4},{"d":10.65,"v":11.4},{"d":10.72,"v":13.0},{"d":10.76,"v":11.8},{"d":10.8,"v":11.0},{"d":10.85,"v":9.6},{"d":10.9,"v":9.4},{"d":10.95,"v":10.4},
      {"d":11,"v":10.0},{"d":11.05,"v":8.6},{"d":11.1,"v":9.0},{"d":11.15,"v":9.4},{"d":11.2,"v":8.2},{"d":11.25,"v":7.0},{"d":11.3,"v":6.0},{"d":11.35,"v":5.2},{"d":11.4,"v":4.2},{"d":11.45,"v":3.2},{"d":11.5,"v":2.4},{"d":11.55,"v":1.6},{"d":11.6,"v":0.8},{"d":11.65,"v":1.6},{"d":11.7,"v":2.4},{"d":11.75,"v":1.4},{"d":11.8,"v":1.6},{"d":11.85,"v":2.6},{"d":11.9,"v":2.8},{"d":11.95,"v":1.6},
      {"d":12,"v":1.8},{"d":12.05,"v":2.6},{"d":12.1,"v":2.9},{"d":12.15,"v":1.6},{"d":12.2,"v":2.0},{"d":12.25,"v":2.8},{"d":12.3,"v":1.4},{"d":12.35,"v":2.2},{"d":12.4,"v":2.6},{"d":12.45,"v":1.4},{"d":12.5,"v":1.5},{"d":12.55,"v":2.6},{"d":12.6,"v":2.8},{"d":12.65,"v":1.8},{"d":12.7,"v":3.0},{"d":12.75,"v":3.4},{"d":12.82,"v":7.6},{"d":12.86,"v":6.2},{"d":12.9,"v":6.0},{"d":12.95,"v":5.2},
      {"d":13,"v":5.0},{"d":13.05,"v":5.6},{"d":13.1,"v":4.4},{"d":13.15,"v":4.8},{"d":13.2,"v":3.6},{"d":13.25,"v":4.6},{"d":13.3,"v":4.2},{"d":13.35,"v":3.0},{"d":13.4,"v":2.4},{"d":13.45,"v":3.0},{"d":13.5,"v":1.5},{"d":13.55,"v":2.2},{"d":13.6,"v":2.5},{"d":13.65,"v":1.0},{"d":13.7,"v":1.4},{"d":13.75,"v":2.6},{"d":13.8,"v":2.8},{"d":13.85,"v":1.8},{"d":13.9,"v":3.2},{"d":13.95,"v":2.4},
      {"d":14,"v":2.2},{"d":14.05,"v":3.2},{"d":14.1,"v":2.8},{"d":14.15,"v":1.6},{"d":14.2,"v":1.8},{"d":14.25,"v":2.8},{"d":14.3,"v":3.0},{"d":14.35,"v":2.0},{"d":14.4,"v":2.2},{"d":14.45,"v":3.0},{"d":14.5,"v":2.6},{"d":14.55,"v":1.6},{"d":14.6,"v":1.6},{"d":14.65,"v":2.6},{"d":14.7,"v":2.4},{"d":14.75,"v":1.0},{"d":14.8,"v":1.2},{"d":14.85,"v":2.4},{"d":14.9,"v":2.6},{"d":14.95,"v":1.4},
      {"d":15,"v":1.8},{"d":15.04,"v":6.9},{"d":15.07,"v":0.6},{"d":15.1,"v":1.0},{"d":15.15,"v":2.2},{"d":15.2,"v":2.0},{"d":15.25,"v":1.0},{"d":15.3,"v":0.5},{"d":15.35,"v":1.4},{"d":15.4,"v":1.6},{"d":15.45,"v":0.6},{"d":15.5,"v":2.2},{"d":15.55,"v":1.2},{"d":15.6,"v":1.4},{"d":15.65,"v":2.4},{"d":15.7,"v":2.4},{"d":15.75,"v":1.6},{"d":15.8,"v":2.8},{"d":15.85,"v":3.4},{"d":15.9,"v":3.8},{"d":15.95,"v":2.8},
      {"d":16,"v":3.2},{"d":16.05,"v":2.2},{"d":16.1,"v":1.5},{"d":16.15,"v":0.4},{"d":16.2,"v":0.8},{"d":16.25,"v":1.8},{"d":16.3,"v":1.8},{"d":16.35,"v":0.8},{"d":16.4,"v":1.2},{"d":16.45,"v":2.2},{"d":16.5,"v":2.0},{"d":16.55,"v":3.0},{"d":16.6,"v":2.6},{"d":16.65,"v":3.4},{"d":16.7,"v":3.6},{"d":16.75,"v":4.4},{"d":16.8,"v":4.2},{"d":16.85,"v":3.4},{"d":16.9,"v":3.8},{"d":16.95,"v":4.4},
      {"d":17,"v":4.1},{"d":17.05,"v":3.0},{"d":17.1,"v":3.4},{"d":17.15,"v":2.4},{"d":17.2,"v":3.0},{"d":17.25,"v":2.2},{"d":17.3,"v":2.0},{"d":17.35,"v":3.0},{"d":17.4,"v":2.8},{"d":17.45,"v":1.6},{"d":17.5,"v":1.6},{"d":17.55,"v":2.6},{"d":17.6,"v":2.4},{"d":17.65,"v":1.2},{"d":17.7,"v":1.8},{"d":17.75,"v":2.8},{"d":17.8,"v":2.6},{"d":17.85,"v":1.6},{"d":17.9,"v":1.2},{"d":17.95,"v":2.4},
      {"d":18,"v":2.2},{"d":18.05,"v":1.2},{"d":18.1,"v":1.0},{"d":18.13,"v":7.2},{"d":18.16,"v":0.8},{"d":18.2,"v":1.5},{"d":18.25,"v":2.4},{"d":18.3,"v":2.0},{"d":18.35,"v":1.0},{"d":18.4,"v":0.8},{"d":18.45,"v":1.8},{"d":18.5,"v":1.6},{"d":18.55,"v":0.6},{"d":18.6,"v":1.0},{"d":18.65,"v":2.0},{"d":18.7,"v":1.4},{"d":18.75,"v":0.4},{"d":18.8,"v":0.6},{"d":18.85,"v":1.8},{"d":18.9,"v":1.3},{"d":18.95,"v":0.6},
      {"d":19,"v":1.0},{"d":19.05,"v":2.2},{"d":19.1,"v":2.0},{"d":19.15,"v":1.0},{"d":19.2,"v":5.2},{"d":19.25,"v":1.2},{"d":19.3,"v":0.4},{"d":19.35,"v":1.6},{"d":19.4,"v":2.0},{"d":19.45,"v":1.0},{"d":19.5,"v":1.4},{"d":19.55,"v":2.6},{"d":19.6,"v":2.4},{"d":19.65,"v":1.6},{"d":19.7,"v":3.0},{"d":19.75,"v":2.0},{"d":19.8,"v":2.2},{"d":19.85,"v":3.4},{"d":19.9,"v":3.8},{"d":19.95,"v":2.4},
      {"d":20,"v":2.6},{"d":20.05,"v":3.6},{"d":20.1,"v":3.4},{"d":20.15,"v":2.6},{"d":20.2,"v":4.0},{"d":20.25,"v":3.0},{"d":20.3,"v":2.4},{"d":20.35,"v":3.4},{"d":20.4,"v":3.0},{"d":20.45,"v":1.8},{"d":20.5,"v":1.8},{"d":20.55,"v":3.0},{"d":20.6,"v":2.6},{"d":20.65,"v":1.6},{"d":20.7,"v":1.4},{"d":20.75,"v":2.6},{"d":20.8,"v":2.2},{"d":20.85,"v":1.0},{"d":20.9,"v":1.0},{"d":20.95,"v":2.2},
      {"d":21,"v":2.0},{"d":21.06,"v":7.0},{"d":21.08,"v":0.4},{"d":21.1,"v":0.6},{"d":21.15,"v":1.8},{"d":21.2,"v":2.0},{"d":21.25,"v":1.0},{"d":21.3,"v":0.8},{"d":21.35,"v":2.0},{"d":21.4,"v":1.8},{"d":21.45,"v":0.8},{"d":21.5,"v":1.2},{"d":21.55,"v":2.4},{"d":21.6,"v":2.4},{"d":21.65,"v":1.2},{"d":21.7,"v":1.4},{"d":21.75,"v":2.6},{"d":21.8,"v":2.8},{"d":21.85,"v":1.4},{"d":21.9,"v":5.0},{"d":21.95,"v":0.6},
      {"d":22,"v":1.2},{"d":22.07,"v":6.6},{"d":22.1,"v":0.2},{"d":22.15,"v":3.0},{"d":22.2,"v":5.8},{"d":22.25,"v":1.6},{"d":22.3,"v":0.8},{"d":22.35,"v":3.4},{"d":22.4,"v":6.2},{"d":22.45,"v":2.4},{"d":22.5,"v":1.0},{"d":22.55,"v":3.6},{"d":22.6,"v":4.5},{"d":22.65,"v":5.6},{"d":22.7,"v":6.8},{"d":22.75,"v":5.2},{"d":22.8,"v":8.4},{"d":22.85,"v":7.0},{"d":22.93,"v":11.0},{"d":22.97,"v":6.0},
      {"d":23,"v":7.6},{"d":23.05,"v":4.0},{"d":23.1,"v":2.0},{"d":23.14,"v":8.0},{"d":23.17,"v":3.0},{"d":23.2,"v":0.2},{"d":23.25,"v":7.5},{"d":23.3,"v":3.0},{"d":23.36,"v":6.8},{"d":23.4,"v":1.8},{"d":23.45,"v":4.4},{"d":23.5,"v":5.0},{"d":23.55,"v":3.0},{"d":23.6,"v":2.4},{"d":23.65,"v":4.0},{"d":23.7,"v":0.3},{"d":23.75,"v":2.6},{"d":23.8,"v":3.6},{"d":23.83,"v":9.6},{"d":23.87,"v":4.0},{"d":23.9,"v":2.0},{"d":23.95,"v":6.0},
      {"d":24,"v":8.6},{"d":24.05,"v":7.0},{"d":24.09,"v":11.6},{"d":24.12,"v":6.4},{"d":24.15,"v":5.0},{"d":24.2,"v":9.2},{"d":24.25,"v":7.0},{"d":24.3,"v":6.0},{"d":24.35,"v":8.0},{"d":24.4,"v":9.6},{"d":24.45,"v":10.5},{"d":24.49,"v":8.6},{"d":24.52,"v":14.4},{"d":24.56,"v":9.6},{"d":24.6,"v":8.4},{"d":24.65,"v":7.0},{"d":24.7,"v":6.2},{"d":24.75,"v":9.0},{"d":24.8,"v":8.0},{"d":24.84,"v":5.0},{"d":24.88,"v":3.0},{"d":24.94,"v":2.4},
      {"d":25,"v":1.5},{"d":25.05,"v":3.0},{"d":25.1,"v":2.6},{"d":25.15,"v":1.4},{"d":25.2,"v":0.3},{"d":25.25,"v":2.4},{"d":25.3,"v":2.2},{"d":25.35,"v":3.2},{"d":25.42,"v":9.0},{"d":25.46,"v":4.0},{"d":25.5,"v":3.4},{"d":25.55,"v":4.4},{"d":25.6,"v":5.0},{"d":25.65,"v":3.6},{"d":25.7,"v":4.0},{"d":25.75,"v":4.8},{"d":25.83,"v":7.0},{"d":25.86,"v":4.2},{"d":25.9,"v":3.6},{"d":25.95,"v":4.6},
      {"d":26,"v":2.2},{"d":26.05,"v":3.6},{"d":26.1,"v":4.8},{"d":26.15,"v":3.2},{"d":26.2,"v":3.0},{"d":26.25,"v":4.2},{"d":26.3,"v":3.8},{"d":26.35,"v":2.6},{"d":26.4,"v":2.4},{"d":26.45,"v":3.6},{"d":26.5,"v":3.4},{"d":26.55,"v":2.2},{"d":26.6,"v":2.0},{"d":26.65,"v":3.2},{"d":26.7,"v":3.0},{"d":26.75,"v":1.8},{"d":26.8,"v":1.6},{"d":26.85,"v":2.8},{"d":26.9,"v":2.8},{"d":26.95,"v":1.6},
      {"d":27,"v":1.8},{"d":27.05,"v":3.0},{"d":27.1,"v":3.4},{"d":27.15,"v":2.0},{"d":27.2,"v":2.2},{"d":27.25,"v":3.2},{"d":27.3,"v":2.8},{"d":27.35,"v":1.6},{"d":27.4,"v":1.4},{"d":27.45,"v":2.6},{"d":27.5,"v":2.6},{"d":27.55,"v":3.4},{"d":27.6,"v":3.0},{"d":27.65,"v":2.2},{"d":27.7,"v":1.8},{"d":27.75,"v":2.8},{"d":27.8,"v":2.4},{"d":27.85,"v":5.0},{"d":27.88,"v":1.6},{"d":27.9,"v":2.0},{"d":27.95,"v":1.0},
      {"d":28,"v":1.5},{"d":28.05,"v":2.4},{"d":28.13,"v":7.0},{"d":28.16,"v":1.4},{"d":28.2,"v":1.2},{"d":28.25,"v":0.4},{"d":28.3,"v":0.6},{"d":28.35,"v":1.6},{"d":28.4,"v":1.8},{"d":28.45,"v":1.0},{"d":28.5,"v":2.2},{"d":28.55,"v":1.4},{"d":28.6,"v":1.4},{"d":28.65,"v":2.4},{"d":28.7,"v":2.6},{"d":28.75,"v":1.2},{"d":28.8,"v":1.6},{"d":28.85,"v":2.8},{"d":28.9,"v":2.4},{"d":28.95,"v":1.2},{"d":29,"v":1.5}
    ],
    "range": [
      {"d":1.000,"v":5.35},{"d":1.112,"v":4.80},{"d":1.337,"v":5.56},{"d":1.640,"v":3.82},{"d":1.921,"v":6.04},{"d":2.213,"v":4.77},{"d":2.348,"v":5.05},{"d":2.629,"v":3.73},
      {"d":2.944,"v":6.24},{"d":3.191,"v":4.75},{"d":3.382,"v":4.63},{"d":3.674,"v":3.76},{"d":3.989,"v":6.46},{"d":4.258,"v":4.27},{"d":4.483,"v":4.18},{"d":4.685,"v":3.73},
      {"d":5.045,"v":6.66},{"d":5.292,"v":4.03},{"d":5.494,"v":3.89},{"d":5.742,"v":3.65},{"d":6.056,"v":6.76},{"d":6.337,"v":3.73},{"d":6.618,"v":3.91},{"d":6.787,"v":3.77},
      {"d":7.101,"v":7.12},{"d":7.404,"v":3.85},{"d":7.652,"v":4.27},{"d":7.854,"v":3.85},{"d":8.169,"v":7.19},{"d":8.528,"v":3.65},{"d":8.697,"v":4.27},{"d":8.888,"v":3.58},
      {"d":9.202,"v":6.96},{"d":9.539,"v":3.49},{"d":9.742,"v":4.69},{"d":9.933,"v":3.77},{"d":10.213,"v":6.96},{"d":10.528,"v":3.58},{"d":10.742,"v":5.05},{"d":10.978,"v":3.67},
      {"d":11.258,"v":6.54},{"d":11.562,"v":3.55},{"d":11.787,"v":5.25},{"d":12.045,"v":4.07},{"d":12.292,"v":6.30},{"d":12.573,"v":3.52},{"d":12.820,"v":5.49},{"d":13.079,"v":4.15},
      {"d":13.303,"v":5.85},{"d":13.584,"v":3.55},{"d":13.865,"v":5.71},{"d":14.124,"v":4.57},{"d":14.348,"v":5.29},{"d":14.652,"v":3.49},{"d":14.910,"v":5.91},{"d":15.213,"v":4.39},
      {"d":15.382,"v":4.89},{"d":15.663,"v":3.64},{"d":15.944,"v":6.04},{"d":16.225,"v":4.63},{"d":16.416,"v":4.45},{"d":16.674,"v":3.73},{"d":16.978,"v":6.06},{"d":17.292,"v":4.15},
      {"d":17.517,"v":4.13},{"d":17.685,"v":3.79},{"d":18.022,"v":6.12},{"d":18.360,"v":4.03},{"d":18.697,"v":4.09},{"d":19.056,"v":6.27},{"d":19.371,"v":3.97},{"d":19.708,"v":4.18},
      {"d":20.101,"v":6.33},{"d":20.461,"v":3.82},{"d":20.663,"v":4.27},{"d":20.944,"v":4.29},{"d":21.135,"v":6.39},{"d":21.506,"v":3.77},{"d":21.843,"v":4.27},{"d":22.180,"v":6.36},
      {"d":22.539,"v":3.65},{"d":22.742,"v":4.41},{"d":22.910,"v":4.03},{"d":23.213,"v":6.33},{"d":23.551,"v":3.67},{"d":23.753,"v":4.53},{"d":23.978,"v":4.03},{"d":24.236,"v":6.21},
      {"d":24.562,"v":3.37},{"d":24.764,"v":4.69},{"d":25.022,"v":3.97},{"d":25.270,"v":6.04},{"d":25.573,"v":3.52},{"d":25.775,"v":4.83},{"d":26.000,"v":3.89},{"d":26.258,"v":5.92},
      {"d":26.596,"v":3.61},{"d":26.820,"v":5.31},{"d":27.045,"v":4.09},{"d":27.315,"v":5.92},{"d":27.607,"v":3.77},{"d":27.854,"v":5.68},{"d":28.101,"v":4.27},{"d":28.326,"v":5.53},
      {"d":28.618,"v":3.73},{"d":28.831,"v":5.88},{"d":28.989,"v":5.23}
    ]
  },
  "vconcat": [
    {
      "width": 830,
      "height": 208,
      "title": {"text": "Feb 2009", "fontWeight": "bold", "offset": 7},
      "layer": [
        {
          "data": {"name": "zero"},
          "mark": {"type": "line", "color": "#ff0000", "strokeWidth": 5},
          "encoding": {
            "x": {"field": "d", "type": "quantitative", "scale": {"domain": [1, 29], "nice": false, "zero": false},
                  "axis": {"values": [1, 6, 11, 16, 21, 26], "labels": false, "title": null, "domain": false, "grid": true, "tickSize": -6}},
            "y": {"field": "v", "type": "quantitative", "scale": {"domain": [-20, 20], "nice": false},
                  "axis": {"values": [-20, -10, 0, 10, 20], "labelExpr": "'' + datum.value", "ticks": false, "grid": false, "title": "outlier #, high(+), low(-)"}}
          }
        },
        {
          "data": {"name": "outliers"},
          "mark": {"type": "point", "shape": "cross", "filled": true, "size": 8, "color": "#ff0000", "opacity": 1},
          "encoding": {
            "x": {"field": "d", "type": "quantitative"},
            "y": {"field": "v", "type": "quantitative"}
          }
        },
        {
          "data": {"values": [{}]},
          "mark": {"type": "text", "text": "Outliers", "fontWeight": "bold", "fontSize": 18, "font": "DejaVu Sans", "color": "black"},
          "encoding": {"x": {"datum": 15.89}, "y": {"datum": 17.5}}
        }
      ]
    },
    {
      "width": 830,
      "height": 108,
      "title": {"text": "Standard Deviation (σ)", "offset": 11},
      "layer": [
        {
          "data": {"name": "sigma"},
          "mark": {"type": "line", "color": "black", "strokeWidth": 1},
          "encoding": {
            "x": {"field": "d", "type": "quantitative", "scale": {"domain": [1, 29], "nice": false, "zero": false},
                  "axis": {"values": [1, 6, 11, 16, 21, 26], "labels": false, "title": null, "domain": true, "grid": true, "tickSize": -6}},
            "y": {"field": "v", "type": "quantitative", "scale": {"domain": [0, 0.15], "nice": false},
                  "axis": {"values": [0, 0.05, 0.1], "labelExpr": "'' + datum.value", "ticks": false, "grid": true, "title": "meters"}}
          }
        },
        {
          "mark": {"type": "rule", "color": "black", "strokeWidth": 1},
          "encoding": {"y": {"datum": 0.15}}
        }
      ]
    },
    {
      "width": 830,
      "height": 109,
      "title": {"text": "Wind Speed from NWLON MET Station", "offset": 12},
      "layer": [
        {
          "data": {"name": "wind"},
          "mark": {"type": "line", "color": "#0000ff", "strokeWidth": 1},
          "encoding": {
            "x": {"field": "d", "type": "quantitative", "scale": {"domain": [1, 29], "nice": false, "zero": false},
                  "axis": {"values": [1, 6, 11, 16, 21, 26], "labels": false, "title": null, "domain": true, "grid": true, "tickSize": -6}},
            "y": {"field": "v", "type": "quantitative", "scale": {"domain": [0, 25], "nice": false},
                  "axis": {"values": [0, 10, 20], "labelExpr": "'' + datum.value", "ticks": false, "grid": false, "title": "m/s"}}
          }
        }
      ]
    },
    {
      "width": 830,
      "height": 167,
      "title": {"text": "Raw MW Range Data", "offset": 3},
      "layer": [
        {
          "data": {"name": "range"},
          "mark": {"type": "line", "color": "#00ff00", "strokeWidth": 1.5, "interpolate": "monotone"},
          "encoding": {
            "x": {"field": "d", "type": "quantitative", "scale": {"domain": [1, 29], "nice": false, "zero": false},
                  "axis": {"values": [1, 6, 11, 16, 21, 26], "labelExpr": "datum.value < 10 ? '02/0' + datum.value : '02/' + datum.value", "title": "Time (UTC)", "domain": false, "grid": true, "tickSize": -6, "labelPadding": 13, "titlePadding": 6}},
            "y": {"field": "v", "type": "quantitative", "scale": {"domain": [2, 8], "nice": false},
                  "axis": {"values": [2, 4, 6, 8], "labelExpr": "'' + datum.value", "ticks": false, "grid": true, "title": "meters"}}
          }
        },
        {
          "mark": {"type": "rule", "color": "black", "strokeWidth": 1},
          "encoding": {"y": {"datum": 8}}
        }
      ]
    }
  ]
}
